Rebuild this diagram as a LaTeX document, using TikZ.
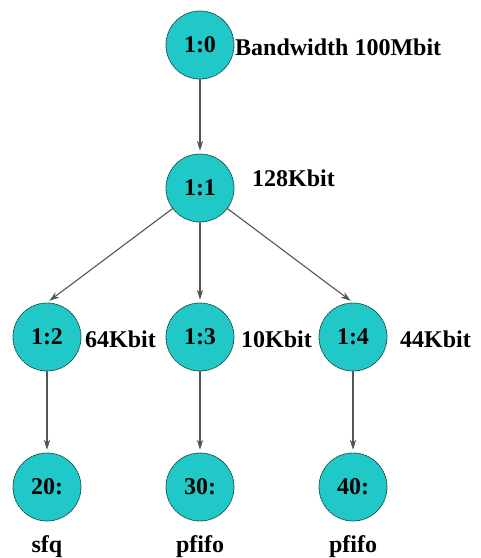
\documentclass[tikz,border=0pt]{standalone}
\usepackage{fontspec}
\setmainfont{Liberation Serif}
\usetikzlibrary{arrows.meta}
\definecolor{qfill}{RGB}{32,200,200}
\definecolor{qedge}{RGB}{30,80,80}
\definecolor{qline}{RGB}{85,85,85}
\begin{document}
\begin{tikzpicture}[x=1pt,y=-1pt,>={Stealth[length=10pt,width=6.5pt]},
	font=\fontsize{24}{28}\selectfont\bfseries, line join=round, line cap=round,
	qdisc/.style={circle,fill=qfill,draw=qedge,dash pattern=on 2pt off 1pt,line width=0.8pt,minimum size=68pt,inner sep=0pt},
	rate/.style={anchor=west,inner sep=0pt},
	link/.style={->,draw=qline,line width=1.1pt,shorten >=3pt}]
	\useasboundingbox (0,0) rectangle (481,558);
	\node[qdisc] (n10) at (200,45) {1:0};
	\node[qdisc] (n11) at (200,188) {1:1};
	\node[qdisc] (n12) at (47,337) {1:2};
	\node[qdisc] (n13) at (200,337) {1:3};
	\node[qdisc] (n14) at (353,337) {1:4};
	\node[qdisc] (n20) at (47,487) {20:};
	\node[qdisc] (n30) at (200,487) {30:};
	\node[qdisc] (n40) at (353,487) {40:};
	% rates
	\node[rate] (r10) at (235,47) {Bandwidth 100Mbit};
	\node[rate] (r11) at (252,178) {128Kbit};
	\node[rate] (r12) at (85,339) {64Kbit};
	\node[rate] (r13) at (241,339) {10Kbit};
	\node[rate] (r14) at (400,339) {44Kbit};
	% leaf queues
	\node[anchor=base] (k20) at (47,552) {sfq};
	\node[anchor=base] (k30) at (200,552) {pfifo};
	\node[anchor=base] (k40) at (353,552) {pfifo};
	\draw[link] (n10) -- (n11);
	\foreach \c in {n12,n13,n14}{
		\draw[link] (n11) -- (\c.north);
	}
	\draw[link] (n12) -- (n20);
	\draw[link] (n13) -- (n30);
	\draw[link] (n14) -- (n40);
\end{tikzpicture}
\end{document}
